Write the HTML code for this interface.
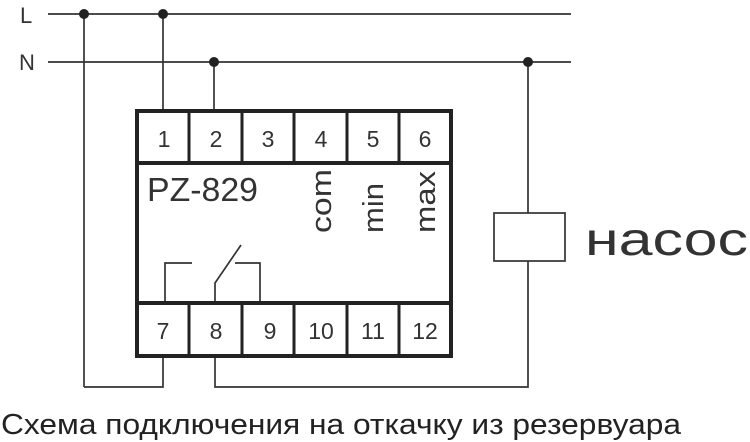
<!DOCTYPE html>
<html><head><meta charset="utf-8"><style>
html,body{margin:0;padding:0;background:#fff;width:750px;height:442px;overflow:hidden}
</style></head><body>
<svg width="750" height="442" viewBox="0 0 750 442" xmlns="http://www.w3.org/2000/svg" font-family="Liberation Sans, DejaVu Sans, sans-serif">
<g stroke="#333" stroke-width="1.7" fill="none">
<line x1="48" y1="14" x2="571" y2="14"/>
<line x1="48" y1="62" x2="571" y2="62"/>
<line x1="84" y1="14" x2="84" y2="387"/>
<polyline points="84,387 163,387 163,357"/>
<line x1="163" y1="14" x2="163" y2="110"/>
<line x1="214" y1="62" x2="214" y2="110"/>
<polyline points="215,357 215,387 528,387 528,261"/>
<line x1="528" y1="62" x2="528" y2="213"/>
<rect x="494" y="213" width="71" height="48"/>
<polyline points="165,301 165,263 192,263"/>
<polyline points="215,301 215,283 241,245"/>
<polyline points="235,263 260,263 260,301"/>
</g>
<g fill="#222">
<circle cx="84" cy="14" r="5"/><circle cx="163" cy="14" r="5"/>
<circle cx="214" cy="62" r="5"/><circle cx="528" cy="62" r="5"/>
</g>
<g stroke="#222" stroke-width="4" fill="none">
<rect x="137" y="111" width="314" height="245"/>
<line x1="137" y1="163" x2="451" y2="163"/>
<line x1="137" y1="303" x2="451" y2="303"/>
</g>
<g stroke="#222" stroke-width="3">
<line x1="189" y1="111" x2="189" y2="163"/><line x1="242" y1="111" x2="242" y2="163"/><line x1="294" y1="111" x2="294" y2="163"/><line x1="347" y1="111" x2="347" y2="163"/><line x1="399" y1="111" x2="399" y2="163"/>
<line x1="189" y1="303" x2="189" y2="356"/><line x1="242" y1="303" x2="242" y2="356"/><line x1="294" y1="303" x2="294" y2="356"/><line x1="347" y1="303" x2="347" y2="356"/><line x1="399" y1="303" x2="399" y2="356"/>
</g>
<g fill="#333" font-size="23" text-anchor="middle">
<text x="164" y="147">1</text><text x="216" y="147">2</text><text x="268" y="147">3</text><text x="321" y="147">4</text><text x="373" y="147">5</text><text x="425" y="147">6</text>
<text x="163" y="339">7</text><text x="216" y="339">8</text><text x="270" y="339">9</text><text x="321" y="339">10</text><text x="373" y="339">11</text><text x="425" y="339">12</text>
</g>
<text x="147" y="201" font-size="33" fill="#333" textLength="111" lengthAdjust="spacingAndGlyphs">PZ-829</text>
<g fill="#333" font-size="29">
<text transform="translate(331,233) rotate(-90)" textLength="64" lengthAdjust="spacingAndGlyphs">com</text>
<text transform="translate(383,233) rotate(-90)" textLength="50" lengthAdjust="spacingAndGlyphs">min</text>
<text transform="translate(435,233) rotate(-90)" textLength="62" lengthAdjust="spacingAndGlyphs">max</text>
</g>
<text x="20" y="23" font-size="22" fill="#333">L</text>
<text x="19" y="70" font-size="22" fill="#333">N</text>
<text x="585" y="255" font-size="46" fill="#333" textLength="163" lengthAdjust="spacingAndGlyphs">насос</text>
<text x="1" y="434" font-size="29" fill="#222" textLength="680" lengthAdjust="spacingAndGlyphs">Схема подключения на откачку из  резервуара</text>
</svg>
</body></html>
